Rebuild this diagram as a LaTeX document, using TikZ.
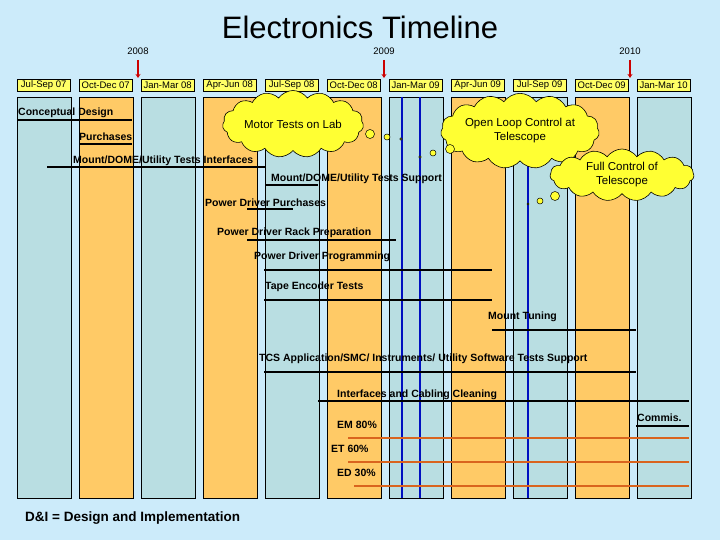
\documentclass[tikz,border=0pt]{standalone}
\usepackage{fontspec}
\setmainfont{Liberation Sans}
\usetikzlibrary{shapes.symbols,arrows.meta}
\definecolor{bg}{HTML}{CCEBFA}
\definecolor{teal}{HTML}{B9DEE2}
\definecolor{orng}{HTML}{FFCA66}
\definecolor{ylw}{HTML}{FFFF66}
\definecolor{cld}{HTML}{FFFF33}
\definecolor{rline}{HTML}{D9641E}
\definecolor{bl}{HTML}{0010C0}
\begin{document}
\begin{tikzpicture}[x=1pt,y=-1pt,
  col/.style={draw=black,line width=0.8pt,minimum width=54pt,minimum height=401pt,inner sep=0pt,anchor=north west},
  lab/.style={draw=black,fill=ylw,line width=0.6pt,font=\fontsize{9.5}{10}\selectfont,inner sep=0.5pt,minimum width=53pt,minimum height=12pt},
  task/.style={font=\bfseries\fontsize{10.5}{12}\selectfont,anchor=west,inner sep=0pt},
  tl/.style={line width=1.3pt},
  ol/.style={rline,line width=1.6pt},
  cl/.style={cloud,cloud puffs=15,cloud puff arc=110,aspect=2.6,draw=black,fill=cld,line width=0.6pt,font=\fontsize{11.5}{14}\selectfont,align=center,inner sep=0pt},
  bub/.style={circle,draw=black,fill=cld,line width=0.5pt,inner sep=0pt},
  yr/.style={font=\fontsize{9.5}{10}\selectfont},
  arr/.style={red!80!black,line width=1.3pt,-{Stealth[length=4pt,width=5pt]}}]
\fill[bg] (0,0) rectangle (720,540);
\useasboundingbox (0,0) rectangle (720,540);
\node[font=\fontsize{31}{34}\selectfont] (title) at (360,27) {Electronics Timeline};
\foreach \i/\t/\c in {0/Jul-Sep 07/teal,1/Oct-Dec 07/orng,2/Jan-Mar 08/teal,3/Apr-Jun 08/orng,4/Jul-Sep 08/teal,5/Oct-Dec 08/orng,6/Jan-Mar 09/teal,7/Apr-Jun 09/orng,8/Jul-Sep 09/teal,9/Oct-Dec 09/orng,10/Jan-Mar 10/teal}{
  \node[col,fill=\c] (c\i) at ({16.7+62*\i},96.7) {};
  \node[lab] (l\i) at ({43.7+62*\i},85) {\t};
}
\foreach \n/\x in {y8/138,y9/384,y10/630}{
  \coordinate (\n a) at (\x,60); \coordinate (\n b) at (\x,78);
  \draw[arr] (\n a) -- (\n b);
}
\node[yr] (t8) at (138,51) {2008};
\node[yr] (t9) at (384,51) {2009};
\node[yr] (t10) at (630,51) {2010};
% blue lines
\draw[bl,line width=2.2pt] (402,97) -- (402,498);
\draw[bl,line width=2.2pt] (420,97) -- (420,498);
\draw[bl,line width=2.2pt] (528,97) -- (528,498);
% tasks
\node[task] (k1) at (18,113) {Conceptual Design};
\draw[tl] (17,120) -- (132,120);
\node[task] (k2) at (79,137) {Purchases};
\draw[tl] (79,144) -- (132,144);
\node[task] (k3) at (73,161) {Mount/DOME/Utility Tests Interfaces};
\draw[tl] (47,167) -- (265,167);
\node[task] (k4) at (271,179) {Mount/DOME/Utility Tests Support};
\draw[tl] (265,185) -- (318,185);
\node[task] (k5) at (205,203) {Power Driver Purchases};
\draw[tl] (247,209) -- (293,209);
\node[task] (k6) at (217,233) {Power Driver Rack Preparation};
\draw[tl] (247,240) -- (396,240);
\node[task] (k7) at (254,257) {Power Driver Programming};
\draw[tl] (264,270) -- (492,270);
\node[task] (k8) at (265,287) {Tape Encoder Tests};
\draw[tl] (264,300) -- (492,300);
\node[task] (k9) at (488,317) {Mount Tuning};
\draw[tl] (492,330) -- (636,330);
\node[task] (k10) at (259,359) {TCS Application/SMC/ Instruments/ Utility Software Tests Support};
\draw[tl] (264,372) -- (636,372);
\node[task] (k11) at (337,395) {Interfaces and Cabling Cleaning};
\draw[tl] (318,401) -- (689,401);
\node[task] (k12) at (637,418) {Commis.};
\draw[tl] (636,426) -- (689,426);
\node[task] (k13) at (337,425) {EM 80\%};
\draw[ol] (348,438) -- (689,438);
\node[task] (k14) at (331,449) {ET 60\%};
\draw[ol] (348,462) -- (689,462);
\node[task] (k15) at (337,473) {ED 30\%};
\draw[ol] (354,486) -- (689,486);
\node[task,font=\bfseries\fontsize{13.5}{15}\selectfont] (di) at (25,518) {D\&I = Design and Implementation};
% clouds
\node[cl,minimum width=124pt,minimum height=44pt] (m1) at (293,124) {Motor Tests on Lab};
\node[cl,minimum width=148pt,minimum height=52pt] (m2) at (520,131) {Open Loop Control at\\Telescope};
\node[cl,minimum width=144pt,minimum height=52pt] (m3) at (622,175) {Full Control of\\Telescope};
\node[bub,minimum size=9pt] (b1) at (370,134) {};
\node[bub,minimum size=6pt] (b2) at (387,137) {};
\node[bub,minimum size=2.5pt] (b3) at (401,139) {};
\node[bub,minimum size=2.5pt] (b4) at (420,157) {};
\node[bub,minimum size=6pt] (b5) at (433,153) {};
\node[bub,minimum size=9pt] (b6) at (450,149) {};
\node[bub,minimum size=2pt] (b7) at (528,204) {};
\node[bub,minimum size=6pt] (b8) at (540,201) {};
\node[bub,minimum size=9pt] (b9) at (555,196) {};
\end{tikzpicture}
\end{document}
